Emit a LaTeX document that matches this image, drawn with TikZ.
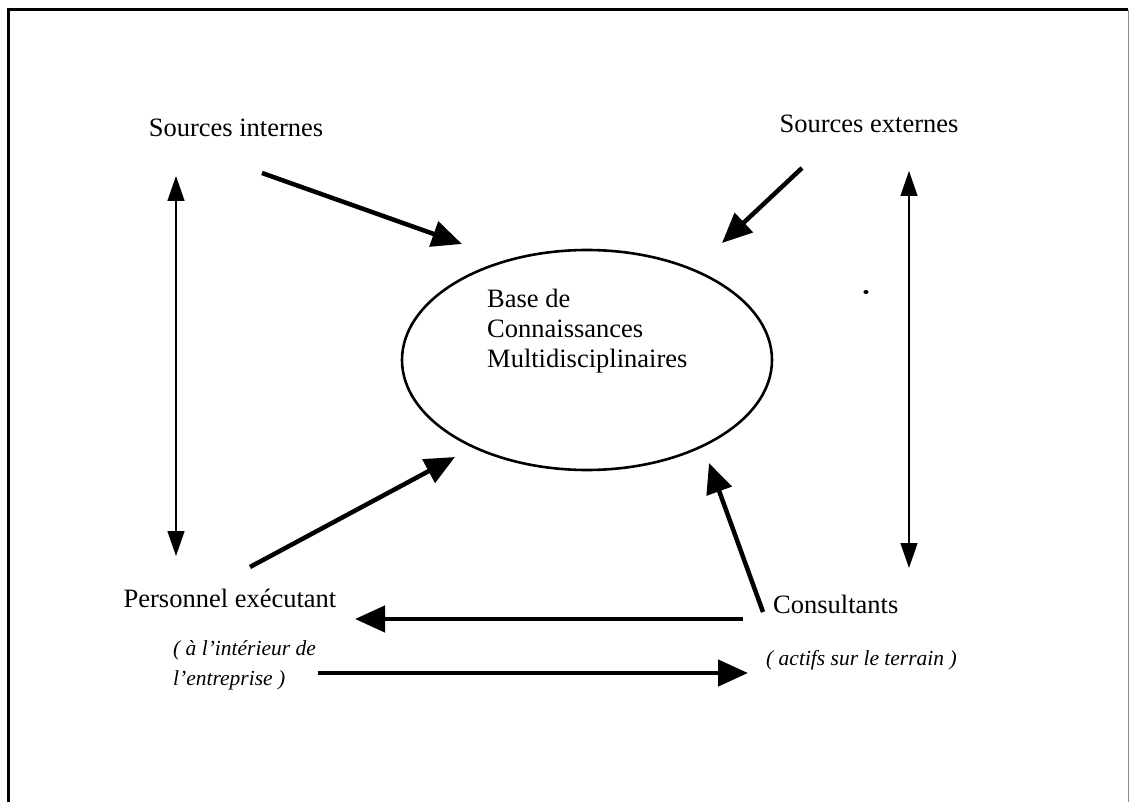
\documentclass[tikz,border=0pt]{standalone}
\usepackage{fontspec}
\setmainfont{Liberation Serif}
\usetikzlibrary{arrows.meta,shapes.geometric}

\tikzset{
  lbl/.style={inner sep=0pt, font=\fontsize{26.5}{30}\selectfont},
  note/.style={inner sep=0pt, align=left, font=\fontsize{21.5}{30}\selectfont\itshape},
  bigflow/.style={line width=4.5pt, -{Triangle[length=30pt,width=26pt]}},
  link/.style={line width=1.4pt, {Triangle[length=25pt,width=17pt]}-{Triangle[length=25pt,width=17pt]}},
  kb/.style={draw, ellipse, line width=2.6pt, minimum width=370pt, minimum height=220pt, inner sep=0pt}
}

\begin{document}
\begin{tikzpicture}[x=1pt,y=-1pt]
\useasboundingbox (0,0) rectangle (1130,802);

% frame
\draw[line width=3pt] (8,802) -- (8,10) -- (1128,10);
\draw[line width=0.8pt, black!45] (1128,10) -- (1128,802);

% central knowledge base (text anchored on the baseline of its last line)
\node[kb] (kb) at (587,360) {};
\node[lbl, anchor=base west, align=left] (kbtext) at (487,367)
  {Base de\\Connaissances\\Multidisciplinaires};

% sources and actors
\node[lbl] (si) at (236,128) {Sources internes};
\node[lbl] (se) at (869,124) {Sources externes};
\node[lbl, anchor=base] (pe) at (230,607) {Personnel exécutant};
\node[lbl, anchor=base west] (co) at (773,613) {Consultants};
\node[note, anchor=base west] (pen) at (173,685) {( à l'intérieur de\\l'entreprise )};
\node[note, anchor=base west] (con) at (766,665) {( actifs sur le terrain )};

% arrow end points
\coordinate (si-out) at (262,173);
\coordinate (kb-nw)  at (462,244);
\coordinate (se-out) at (802,168);
\coordinate (kb-ne)  at (722,243);
\coordinate (pe-out) at (250,567);
\coordinate (kb-sw)  at (455,457);
\coordinate (co-out) at (763,612);
\coordinate (kb-se)  at (709,463);
\coordinate (co-w)   at (743,619);
\coordinate (pe-e)   at (355,619);
\coordinate (pen-e)  at (318,673);
\coordinate (con-w)  at (748,673);
\coordinate (si-s)   at (176,176);
\coordinate (pe-n)   at (176,556);
\coordinate (se-s)   at (909,171);
\coordinate (co-n)   at (909,568);

% flows into the knowledge base
\draw[bigflow] (si-out) -- (kb-nw);
\draw[bigflow] (se-out) -- (kb-ne);
\draw[bigflow] (pe-out) -- (kb-sw);
\draw[bigflow] (co-out) -- (kb-se);

% exchanges between consultants and staff
\draw[bigflow] (co-w) -- (pe-e);
\draw[bigflow] (pen-e) -- (con-w);

% links between sources and actors
\draw[link] (si-s) -- (pe-n);
\draw[link] (se-s) -- (co-n);

% small mark
\fill (866,292) ellipse (2.6pt and 2pt);
\end{tikzpicture}
\end{document}
